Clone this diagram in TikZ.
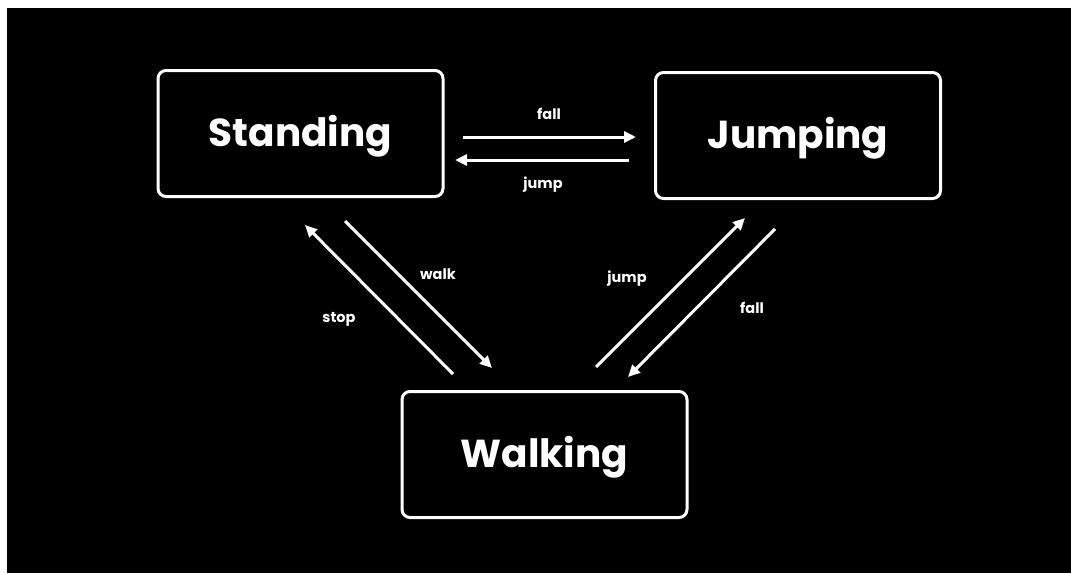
\documentclass[tikz,border=0pt]{standalone}
\usepackage{fontspec}
\setmainfont{Poppins}[BoldFont={* Bold}]
\usetikzlibrary{arrows.meta}
\begin{document}
\begin{tikzpicture}[x=1pt,y=-1pt,
  state/.style={draw=white,line width=3pt,rounded corners=8pt,fill=black,text=white,
    minimum width=285pt,minimum height=126pt,inner sep=0pt,text height=26pt,text depth=0pt,
    font=\bfseries\fontsize{39}{44}\selectfont},
  trans/.style={draw=white,line width=3pt,-{Triangle[length=12pt,width=11pt]}},
  lbl/.style={text=white,font=\bfseries\fontsize{14.5}{17}\selectfont,inner sep=0pt}]
\useasboundingbox (0,0) rectangle (1071,573);
\fill[white] (0,0) rectangle (1071,573);
\fill[black] (7,8) rectangle (1071,573);
\node[state] (standing) at (300.5,133.5) {Standing};
\node[state] (jumping) at (798,135.5) {Jumping};
\node[state] (walking) at (544.5,454.5) {Walking};
% free ends
\coordinate (sjA) at (463,137); \coordinate (sjB) at (636,137);
\coordinate (jsA) at (629,160); \coordinate (jsB) at (455,160);
\coordinate (swA) at (345,221); \coordinate (swB) at (492,368);
\coordinate (wsA) at (453,374); \coordinate (wsB) at (305,225);
\coordinate (wjA) at (596,367); \coordinate (wjB) at (745,218);
\coordinate (jwA) at (775,229); \coordinate (jwB) at (628,377);
\draw[trans] (sjA) -- (sjB);
\draw[trans] (jsA) -- (jsB);
\draw[trans] (swA) -- (swB);
\draw[trans] (wsA) -- (wsB);
\draw[trans] (wjA) -- (wjB);
\draw[trans] (jwA) -- (jwB);
\node[lbl] (lfall1) at (549,114) {fall};
\node[lbl] (ljump1) at (543,185) {jump};
\node[lbl] (lwalk) at (438,274) {walk};
\node[lbl] (lstop) at (339,319) {stop};
\node[lbl] (ljump2) at (627,279) {jump};
\node[lbl] (lfall2) at (752,308) {fall};
\end{tikzpicture}
\end{document}
